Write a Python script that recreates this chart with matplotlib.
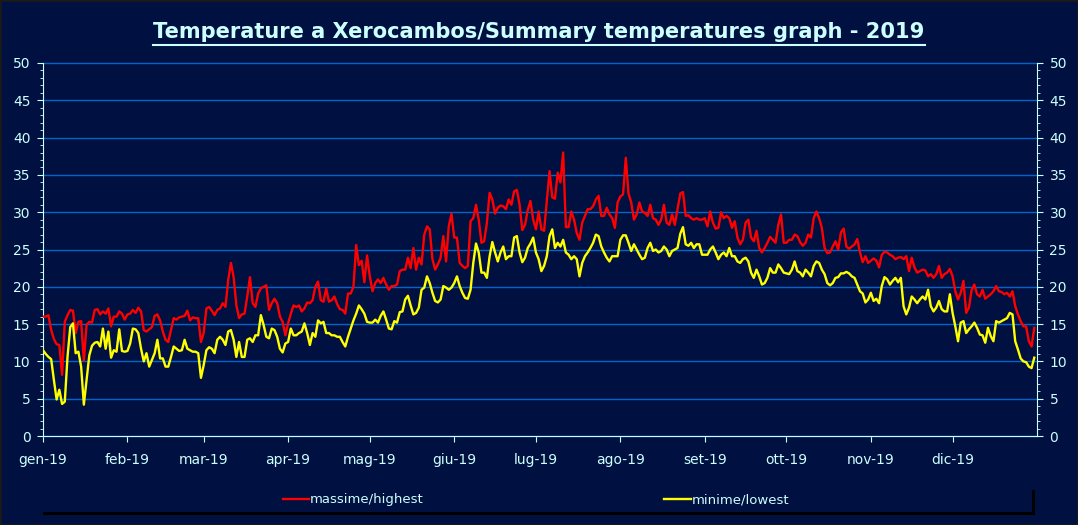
import matplotlib
matplotlib.use("Agg")
import matplotlib.pyplot as plt
from matplotlib.ticker import MultipleLocator
from matplotlib.lines import Line2D
from matplotlib.patches import Rectangle

bg = "#001040"
txt = "#CCFFFF"
W, H = 1078, 525

months = ["gen-19", "feb-19", "mar-19", "apr-19", "mag-19", "giu-19",
          "lug-19", "ago-19", "set-19", "ott-19", "nov-19", "dic-19"]
month_start = [0, 31, 59, 90, 120, 151, 181, 212, 243, 273, 304, 334]

# daily highs (massime)
highs = [
    16, 16, 16.2, 14.2, 13, 12.3, 12.2, 8.2, 15.3, 16.2,
    16.9, 16.8, 13.8, 15.3, 15.4, 10.1, 14.9, 15.3, 15.2, 16.9,
    17, 16.3, 16.7, 16.4, 17.1, 14.7, 16, 16, 16.7, 16.4,
    15.6, 16.3, 16.4, 16.9, 16.5, 17.2, 16.7, 14.2, 14, 14.3,
    14.6, 16.1, 16.3, 15.5, 14, 12.9, 12.6, 14.2, 15.8, 15.6,
    15.9, 16, 16.1, 16.8, 15.5, 15.9, 15.8, 15.8, 12.6, 13.8,
    17.1, 17.3, 16.8, 16.2, 16.9, 17.1, 17.8, 17.3, 20.9, 23.2,
    21.3, 17.5, 15.8, 16.3, 16.4, 18.7, 21.3, 17.8, 17.3, 19.1,
    19.8, 20, 20.2, 16.9, 17.8, 18.4, 17.8, 16, 15.3, 13.5,
    15.1, 16.4, 17.5, 17.3, 17.5, 16.7, 17.1, 17.9, 17.8, 18.2,
    20, 20.7, 18.2, 18, 19.8, 18, 18.2, 18.7, 17.7, 17,
    16.9, 16.4, 19.1, 19.1, 20, 25.6, 22.9, 23.5, 20.6, 24.2,
    21.4, 19.4, 20.5, 21, 20.5, 21.2, 20.3, 19.6, 20.1, 20.1,
    20.3, 22.1, 22.3, 22.3, 23.9, 22.5, 25.2, 22.3, 23.9, 23,
    27, 28.1, 27.7, 23.7, 22.3, 23, 23.9, 26.8, 23.4, 28.1,
    29.8, 26.6, 26.6, 23.2, 22.8, 22.5, 22.8, 28.8, 29.2, 31,
    29, 25.9, 26.1, 28.6, 32.6, 31.7, 29.8, 30.6, 30.9, 30.8,
    30.4, 31.7, 31, 32.8, 33, 31, 27.6, 28.3, 30.3, 31.5,
    29, 27.7, 30.1, 27.7, 27.5, 31.5, 35.5, 32, 31.8, 35.3,
    34, 38, 28, 28, 30.1, 29, 27.2, 26.3, 28.6, 29.5,
    30.4, 30.4, 30.8, 31.7, 32.2, 29.5, 29.5, 30.6, 29.7, 29.2,
    27.9, 31.3, 32.1, 32.4, 37.3, 32.5, 31.3, 29, 29.7, 31.3,
    30.1, 29.9, 29.5, 31, 29.2, 29, 28.3, 29, 31, 28.6,
    28.3, 29.7, 28.3, 30.4, 32.5, 32.7, 29.5, 29.6, 29.2, 29,
    29.2, 29, 29, 29.2, 28.1, 30.1, 28.6, 27.8, 27.9, 30,
    29.2, 29.5, 29.2, 27.9, 28.8, 26.6, 25.7, 26.3, 28.6, 29,
    26.6, 26.1, 27.5, 25.2, 24.6, 25.2, 25.9, 26.7, 26.3, 25.9,
    28.3, 29.7, 25.9, 25.9, 26.3, 26.3, 27, 26.8, 26, 25.5,
    25.9, 27, 26.6, 29.2, 30.1, 29.2, 27.9, 25.2, 24.5, 24.6,
    25.4, 26.1, 25, 27.3, 27.8, 25.4, 25.1, 25.4, 25.7, 26.4,
    24.6, 23.3, 24.1, 23.2, 23.5, 23.8, 23.5, 22.6, 24.3, 24.7,
    24.6, 24.3, 24.1, 23.7, 23.9, 24, 23.7, 24.1, 22.1, 23.9,
    22.6, 21.9, 22.1, 22.3, 22.2, 21.4, 21.7, 21.2, 21.7, 22.8,
    21.2, 21.7, 21.9, 22.4, 21.4, 19.4, 18.3, 19.2, 20.8, 16.5,
    17.2, 19.6, 20.3, 19, 18.7, 19.6, 18.4, 18.7, 19, 19.4,
    20.1, 19.4, 19.3, 19, 19.2, 18.7, 19.4, 17.4, 16.3, 15.4,
    14.7, 14.7, 12.7, 12, 14.5,
]

# daily lows (minime)
lows = [
    11.5, 11, 10.6, 10.3, 7.5, 4.9, 6.2, 4.3, 4.6, 10.6,
    14.6, 15.1, 11.1, 11.3, 9.3, 4.2, 7.5, 10.8, 12.1, 12.5,
    12.6, 12, 14.4, 11.7, 14, 10.5, 11.5, 11.3, 14.3, 11.4,
    11.3, 11.4, 12.4, 14.4, 14.3, 13.8, 11.7, 10, 11.1, 9.3,
    10.2, 11.1, 12.9, 10.4, 10.4, 9.3, 9.3, 10.6, 12, 11.7,
    11.4, 11.5, 12.9, 11.7, 11.5, 11.3, 11.3, 11.1, 7.8, 9.5,
    11.5, 11.9, 11.7, 11.1, 12.9, 13.3, 12.9, 12.2, 14, 14.2,
    12.9, 10.6, 12.6, 10.6, 10.6, 12.9, 13.1, 12.6, 13.5, 13.5,
    16.2, 14.9, 13.3, 13.1, 14.4, 14.2, 13.3, 11.7, 11.2, 12.4,
    12.6, 14.4, 13.5, 13.5, 13.8, 14, 15.1, 13.8, 12.2, 13.8,
    13.3, 15.5, 15.1, 15.3, 13.8, 13.8, 13.5, 13.5, 13.3, 13.3,
    12.6, 12, 13.3, 14.4, 15.5, 16.4, 17.5, 17, 16.4, 15.3,
    15.2, 15.2, 15.6, 15.2, 16.1, 16.7, 15.6, 14.4, 14.3, 15.4,
    15.2, 16.6, 16.7, 18.3, 18.8, 17.5, 16.3, 16.5, 17.2, 19.6,
    19.9, 21.4, 20.5, 19.2, 18.1, 17.9, 18.3, 20.1, 19.9, 19.6,
    19.9, 20.5, 21.4, 20.1, 19.2, 18.5, 18.4, 19.6, 23.2, 25.8,
    24.6, 21.9, 21.9, 21.2, 24.1, 26, 24.6, 23.4, 24.6, 25.4,
    23.7, 24.1, 24.1, 26.6, 26.8, 24.6, 23.3, 23.9, 25.2, 25.8,
    26.6, 24.6, 23.7, 22.1, 22.8, 24.1, 26.8, 27.7, 25.2, 25.9,
    25.4, 26.3, 24.6, 24.3, 23.7, 24.1, 23.7, 21.4, 23.2, 24.1,
    24.6, 25.2, 25.9, 27, 26.8, 25.4, 24.6, 23.9, 23.4, 24.1,
    24.1, 24.1, 26.3, 26.9, 26.9, 25.9, 24.8, 25.7, 25, 24.3,
    23.7, 23.9, 25.2, 25.9, 24.8, 25, 24.6, 24.8, 25.4, 25,
    24.1, 24.8, 25, 25.2, 27.1, 28, 25.7, 25.5, 25.9, 25.2,
    25.7, 25.7, 24.3, 24.3, 24.3, 25, 25.4, 24.6, 23.7, 24.3,
    24.6, 24.1, 25.2, 24.1, 24.1, 23.4, 23.2, 23.7, 23.9, 23.4,
    21.9, 21.2, 22.3, 21.4, 20.3, 20.5, 21.2, 22.5, 21.9, 21.9,
    23, 22.5, 21.9, 21.8, 21.7, 22.3, 23.4, 22.1, 21.9, 21.4,
    22.3, 21.9, 21.4, 22.8, 23.4, 23.2, 22.3, 21.7, 20.5, 20.2,
    20.5, 21.2, 21.3, 21.8, 21.8, 22, 21.8, 21.4, 21.2, 20.3,
    19.4, 19.1, 17.9, 18.3, 19.2, 18.1, 18.4, 17.8, 20.1, 21.3,
    21, 20.3, 20.8, 21.2, 20.6, 21.2, 17.4, 16.3, 17.2, 18.7,
    18.3, 17.8, 18.3, 18.7, 18.3, 19.6, 17.4, 16.7, 17.2, 18.1,
    17, 16.7, 16.7, 19, 16.5, 14.7, 12.7, 15.2, 15.4, 13.8,
    14.3, 14.7, 15.2, 14.5, 13.6, 13.5, 12.5, 14.5, 13.4, 12.7,
    15.4, 15.2, 15.4, 15.6, 15.8, 16.5, 16.3, 12.7, 11.6, 10.4,
    10, 9.9, 9.3, 9.1, 10.5,
]

days = list(range(len(highs)))

fig = plt.figure(figsize=(W / 100, H / 100), dpi=100, facecolor=bg)
ax = fig.add_axes([43 / W, 1 - 436 / H, 994 / W, 373 / H])
ax.set_facecolor(bg)

ax.plot(days, highs, color="#FF0000", lw=1.7, label="massime/highest", zorder=3)
ax.plot(days, lows, color="#FFFF00", lw=1.7, label="minime/lowest", zorder=3)

ax.set_xlim(0, 365)
ax.set_ylim(0, 50)
ax.yaxis.set_major_locator(MultipleLocator(5))
ax.yaxis.set_minor_locator(MultipleLocator(1))
ax.grid(axis="y", which="major", color="#0066CC", lw=1, clip_on=False)
ax.set_axisbelow(True)

ax.set_xticks(month_start)
ax.set_xticklabels(months)
ax.tick_params(axis="both", which="both", colors=txt, labelcolor=txt, labelsize=10)
ax.tick_params(axis="y", which="both", left=True, right=True,
               labelleft=True, labelright=True)
ax.tick_params(axis="y", which="major", length=4, pad=5)
ax.tick_params(axis="y", which="minor", length=2.5)
ax.tick_params(axis="x", length=4, pad=8)

for s in ["left", "right", "bottom"]:
    ax.spines[s].set_color(txt)
ax.spines["top"].set_visible(False)

# title with underline
title = fig.text(0.5, 1 - 32 / H, "Temperature a Xerocambos/Summary temperatures graph - 2019",
                 ha="center", va="center", color=txt, fontsize=15.1, fontweight="bold")
fig.canvas.draw()
bb = title.get_window_extent().transformed(fig.transFigure.inverted())
fig.add_artist(Line2D([bb.x0, bb.x1], [bb.y0 - 0.006, bb.y0 - 0.006],
                      color=txt, lw=1.5, transform=fig.transFigure))

# legend box with shadow
fig.add_artist(Rectangle((43 / W, 1 - 515 / H), 992 / W, 25 / H,
                         transform=fig.transFigure, facecolor="black", edgecolor="none"))
fig.add_artist(Rectangle((40 / W, 1 - 512 / H), 992 / W, 25 / H,
                         transform=fig.transFigure, facecolor=bg, edgecolor="none"))
fig.legend(loc="center", bbox_to_anchor=(536 / W, 1 - 500 / H), ncol=2, frameon=False,
           columnspacing=18.2, handlelength=2, handletextpad=0.1, fontsize=9.5,
           labelcolor=txt)

# outer border
fig.add_artist(Rectangle((0, 0), 1, 1, transform=fig.transFigure, fill=False,
                         edgecolor="#1a1a1a", lw=2))

fig.savefig("out.png", dpi=100, facecolor=bg)
